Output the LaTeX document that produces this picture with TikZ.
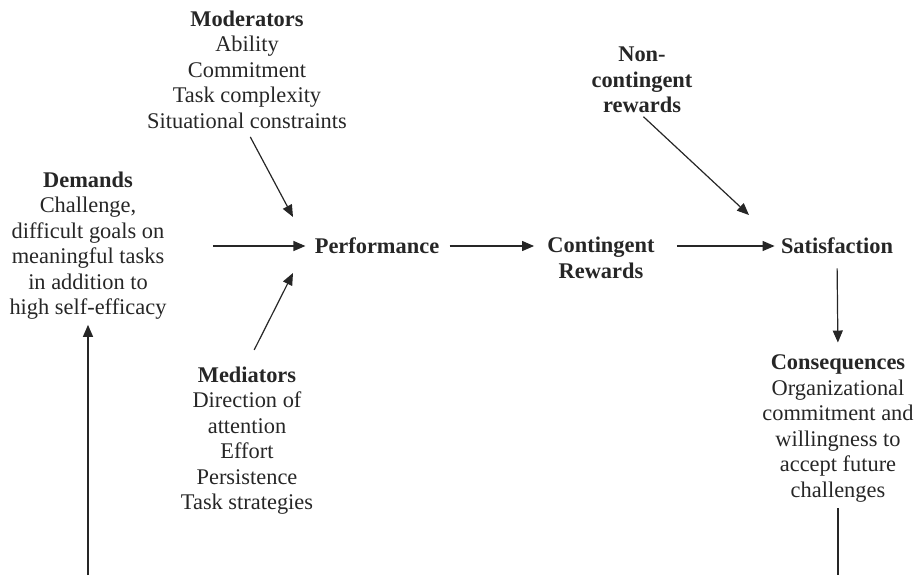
\documentclass[tikz,border=0pt]{standalone}
\usepackage{fontspec}
\setmainfont{Liberation Serif}
\usetikzlibrary{arrows.meta}
\begin{document}
\begin{tikzpicture}[x=0.5pt,y=-0.5pt,
  font=\fontsize{11.2}{12.75}\selectfont,
  lbl/.style={align=center, inner sep=1pt, text=black!85},
  arr/.style={line width=0.6pt, draw=black!85, -{Triangle[length=6pt,width=5pt]}},
  ln/.style={line width=0.6pt, draw=black!85}]
\useasboundingbox (0,0) rectangle (923,575);

\node[lbl] (mod) at (247,69.5) {\textbf{Moderators}\\Ability\\Commitment\\Task complexity\\Situational constraints};
\node[lbl] (dem) at (88,245.5) {\textbf{Demands}\\Challenge,\\difficult goals on\\meaningful tasks\\in addition to\\high self-efficacy};
\node[lbl] (perf) at (377,246) {\textbf{Performance}};
\node[lbl] (cont) at (601,258) {\textbf{Contingent}\\\textbf{Rewards}};
\node[lbl] (sat) at (837,246) {\textbf{Satisfaction}};
\node[lbl] (nc) at (642,80) {\textbf{Non-}\\\textbf{contingent}\\\textbf{rewards}};
\node[lbl] (med) at (247,440.5) {\textbf{Mediators}\\Direction of\\attention\\Effort\\Persistence\\Task strategies};
\node[lbl] (cons) at (838,428.5) {\textbf{Consequences}\\Organizational\\commitment and\\willingness to\\accept future\\challenges};

\coordinate (pin1) at (293,217);
\coordinate (pin2) at (293,273);
\coordinate (satin) at (749,215);
\coordinate (bl) at (88,575);
\coordinate (br) at (838,575);

\draw[arr, shorten <=22pt, shorten >=3.5pt] (dem.east |- perf.west) -- (perf.west);
\draw[arr, shorten <=4pt, shorten >=5.5pt] (perf.east) -- (perf.east -| cont.west);
\draw[arr, shorten <=10pt, shorten >=2pt] (perf.east -| cont.east) -- (sat.west);
\draw[arr, shorten <=3.5pt] (mod.south) -- (pin1);
\draw[arr, shorten <=8pt] (med.north) -- (pin2);
\draw[arr, shorten <=1pt] (nc.south) -- (satin);
\draw[arr, shorten <=6pt, shorten >=5pt] (sat.south) -- (cons.north);
\draw[ln, shorten <=2pt] (cons.south) -- (br);
\draw[arr, shorten >=1.5pt] (bl) -- (dem.south);
\end{tikzpicture}
\end{document}
